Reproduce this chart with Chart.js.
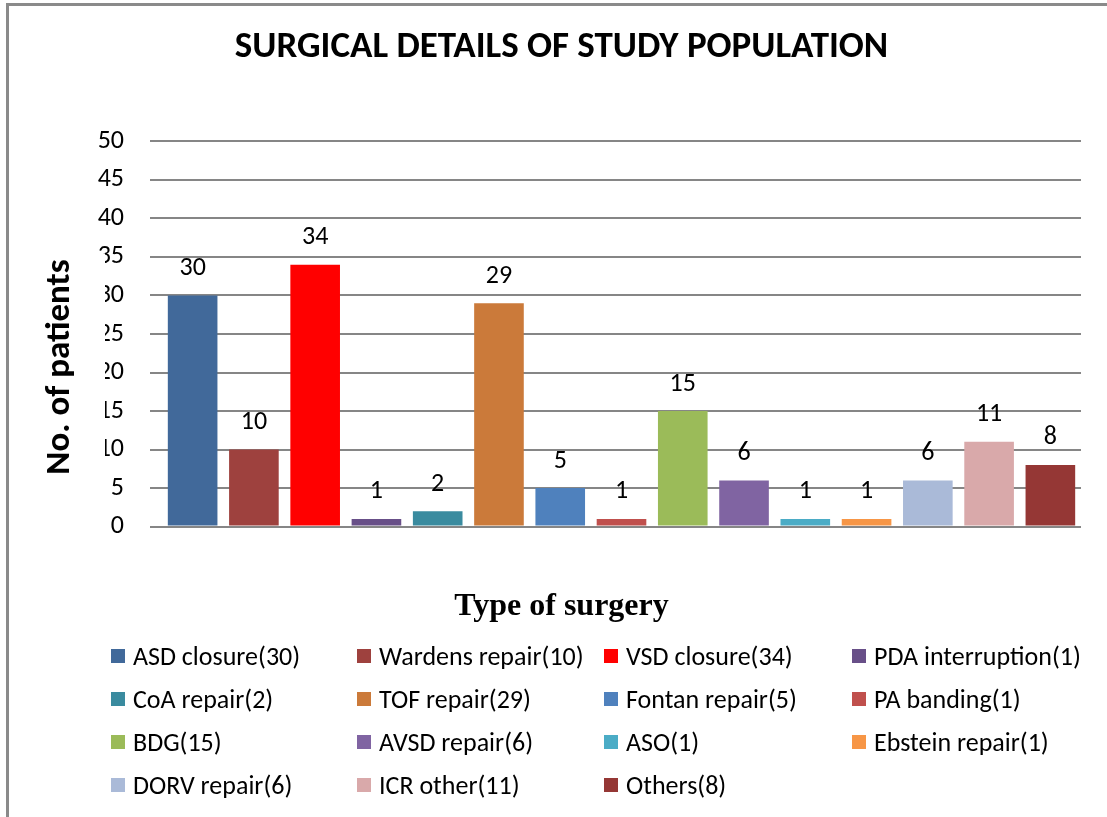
<!DOCTYPE html>
<html lang="en">
<head>
  <meta charset="utf-8">
  <title>Surgical details of study population</title>
  <script src="https://cdn.jsdelivr.net/npm/chart.js@4.4.1/dist/chart.umd.min.js"></script>
  <style>
    body{ margin:0; background:#fff; }
    #frame{
      position:absolute; left:6px; top:3px; width:1200px; height:900px;
      border-top:3px solid #8a8a8a; border-left:3px solid #8a8a8a;
    }
    #wrap{ position:absolute; left:0; top:0; width:1107px; height:817px; }
    #legend{
      position:absolute; left:111px; top:634px;
      display:grid; grid-template-columns:246px 247px 248px 240px;
      grid-auto-rows:43px;
      font-family:Carlito, Lato, "Open Sans", sans-serif; font-size:26px; color:#000;
    }
    #legend div{ display:flex; align-items:center; white-space:nowrap; }
    #legend span.sw{ display:inline-block; width:14px; height:14px; margin-right:8px; }
  </style>
</head>
<body>
  <div id="frame"></div>
  <div id="wrap"><canvas id="bar_chart" width="1107" height="817"></canvas></div>
  <div id="legend"></div>

  <script>
    var categories = ["ASD closure", "Wardens repair", "VSD closure", "PDA interruption", "CoA repair",
      "TOF repair", "Fontan repair", "PA banding", "BDG", "AVSD repair", "ASO", "Ebstein repair",
      "DORV repair", "ICR other", "Others"];
    var patients = [30, 10, 34, 1, 2, 29, 5, 1, 15, 6, 1, 1, 6, 11, 8];
    var barColors = ["#41699a", "#9e413e", "#ff0000", "#684f88", "#3a8b9f", "#cb7a3a", "#4f81bd",
      "#c0504d", "#9bbb59", "#8064a2", "#4bacc6", "#f79646", "#aabad8", "#d9a9aa", "#953735"];
    var yTicks = [0, 5, 10, 15, 20, 25, 30, 35, 40, 45, 50];

    var fontFam = "Carlito, Lato, 'Open Sans', sans-serif";

    // legend, built from the same arrays
    var legend = document.getElementById("legend");
    categories.forEach(function(c, i){
      var d = document.createElement("div");
      d.innerHTML = '<span class="sw" style="background:' + barColors[i] + '"></span>' + c + '(' + patients[i] + ')';
      legend.appendChild(d);
    });

    // value labels above bars
    var valueLabels = {
      id: "valueLabels",
      afterDatasetsDraw: function(chart){
        var ctx = chart.ctx;
        var meta = chart.getDatasetMeta(0);
        ctx.save();
        ctx.font = "26px " + fontFam;
        ctx.fillStyle = "#000";
        ctx.textAlign = "center";
        ctx.textBaseline = "middle";
        meta.data.forEach(function(bar, i){
          ctx.fillText(patients[i], bar.x, bar.y - 27);
        });
        ctx.restore();
      }
    };

    // y title sits on a white box over the tick labels, like the original
    var yTitle = {
      id: "yTitle",
      afterDraw: function(chart){
        var ctx = chart.ctx;
        ctx.save();
        ctx.font = "bold 35px " + fontFam;
        var txt = "No. of patients";
        var w = ctx.measureText(txt).width;
        var cy = 367, cx = 60;
        ctx.fillStyle = "#fff";
        ctx.fillRect(38, cy - w / 2 - 6, 67, w + 12);
        ctx.translate(cx, cy);
        ctx.rotate(-Math.PI / 2);
        ctx.fillStyle = "#000";
        ctx.textAlign = "center";
        ctx.textBaseline = "middle";
        ctx.fillText(txt, 0, 0);
        ctx.restore();
      }
    };

    var chart = new Chart(document.getElementById("bar_chart"), {
      type: "bar",
      data: {
        labels: categories,
        datasets: [{
          data: patients,
          backgroundColor: barColors,
          barPercentage: 0.81,
          categoryPercentage: 1.0
        }]
      },
      options: {
        responsive: false,
        animation: false,
        layout: { padding: { left: 42, right: 26, top: 0, bottom: 191 } },
        plugins: {
          legend: { display: false },
          tooltip: { enabled: false },
          title: {
            display: true,
            text: "SURGICAL DETAILS OF STUDY POPULATION",
            color: "#000",
            font: { family: fontFam, size: 37, weight: "bold" },
            padding: { top: 26, bottom: 71 }
          },
          subtitle: {
            display: true,
            position: "bottom",
            text: "Type of surgery",
            color: "#000",
            font: { family: "'Liberation Serif', 'Times New Roman', serif", size: 32, weight: "bold" },
            padding: { top: 53, bottom: 0 }
          }
        },
        scales: {
          x: {
            grid: { display: false },
            border: { display: false },
            ticks: { display: false }
          },
          y: {
            min: 0,
            max: 50,
            afterFit: function(s){ s.width = 120; },
            afterBuildTicks: function(s){ s.ticks = yTicks.map(function(v){ return { value: v }; }); },
            border: { display: false },
            grid: { color: "#868686", lineWidth: 2, tickLength: 12 },
            ticks: {
              color: "#000",
              padding: 26,
              font: { family: fontFam, size: 26 }
            }
          }
        }
      },
      plugins: [valueLabels, yTitle]
    });
  </script>
</body>
</html>
